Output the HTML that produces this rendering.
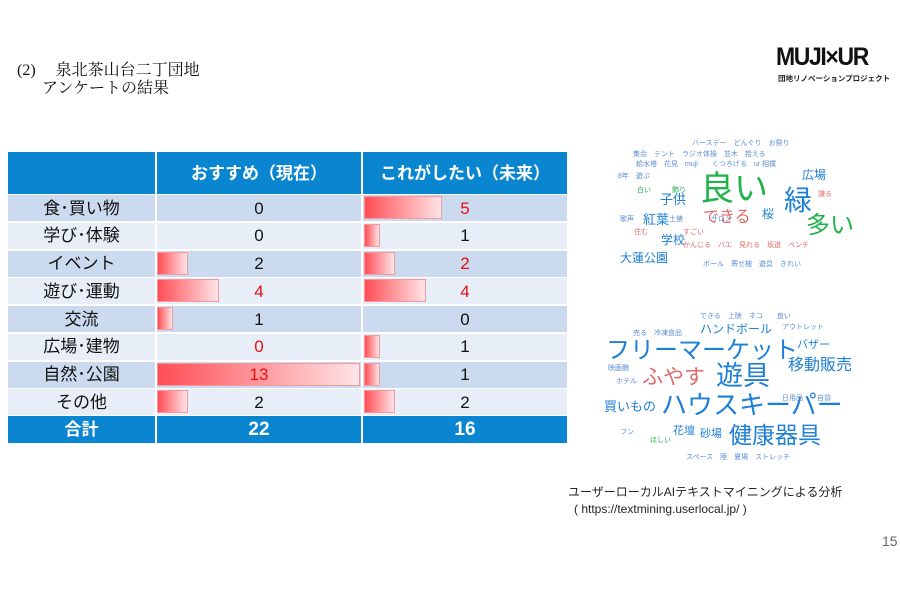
<!DOCTYPE html>
<html><head><meta charset="utf-8"><style>
*{margin:0;padding:0;box-sizing:border-box}
body{width:900px;height:600px;background:#fff;position:relative;overflow:hidden;font-family:"Liberation Sans","Noto Sans CJK JP",sans-serif}
.a{position:absolute;white-space:nowrap}
.t{font-family:"Liberation Serif","Noto Serif CJK SC",serif;font-size:16px;color:#111;line-height:1}
.cell{position:absolute;display:flex;align-items:center;justify-content:center;font-size:17px;color:#111;line-height:1}
.bar{position:absolute;height:23px;background:linear-gradient(90deg,#ff4d55,#ffe4e6);border:1px solid #f29aa0}
.w{position:absolute;white-space:nowrap;line-height:1}
</style></head><body>
<div class="a t" style="left:17px;top:63px">(2)　 泉北茶山台二丁団地</div>
<div class="a t" style="left:42px;top:81px">アンケートの結果</div>
<div class="a" style="left:776px;top:45px;font-size:25px;font-weight:bold;letter-spacing:-1.5px;color:#111;line-height:1;transform:scaleX(0.92);transform-origin:left">MUJI×UR</div>
<div class="a" style="left:778px;top:75px;font-size:7.5px;font-weight:bold;color:#222;line-height:1">団地リノベーションプロジェクト</div>

<div class="a" style="left:8px;top:152px;width:559px;height:42px;background:#0a86d1"></div>
<div class="a" style="left:8px;top:416px;width:559px;height:27px;background:#0a86d1"></div>
<div id="rows"></div>
<div class="a" style="left:155px;top:152px;width:2px;height:291px;background:#fff"></div>
<div class="a" style="left:361px;top:152px;width:2px;height:291px;background:#fff"></div>
<div class="cell" style="left:157px;top:152px;width:204px;height:42px;color:#fff;font-weight:bold;font-size:17px">おすすめ（現在）</div>
<div class="cell" style="left:363px;top:152px;width:204px;height:42px;color:#fff;font-weight:bold;font-size:17px">これがしたい（未来）</div>
<div class="cell" style="left:8px;top:416px;width:147px;height:27px;color:#fff;font-weight:bold">合計</div>
<div class="cell" style="left:157px;top:416px;width:204px;height:27px;color:#fff;font-weight:bold;font-size:19px">22</div>
<div class="cell" style="left:363px;top:416px;width:204px;height:27px;color:#fff;font-weight:bold;font-size:19px">16</div>

<script>
var d=[["食･買い物",0,5,0,1],["学び･体験",0,1,0,0],["イベント",2,2,0,1],["遊び･運動",4,4,1,1],["交流",1,0,0,0],["広場･建物",0,1,1,0],["自然･公園",13,1,1,0],["その他",2,2,0,0]];
var h="";
for(var i=0;i<8;i++){var y=194+i*27.75;var bg=i%2==0?"#cbdaee":"#e7eef8";
h+='<div class="a" style="left:8px;top:'+(y+1)+'px;width:559px;height:26px;background:'+bg+'"></div>';
if(d[i][1])h+='<div class="bar" style="left:157px;top:'+(y+2)+'px;width:'+(d[i][1]*15.6)+'px"></div>';
if(d[i][2])h+='<div class="bar" style="left:364px;top:'+(y+2)+'px;width:'+(d[i][2]*15.6)+'px"></div>';
h+='<div class="cell" style="left:8px;top:'+y+'px;width:147px;height:28px">'+d[i][0]+'</div>';
h+='<div class="cell" style="left:157px;top:'+y+'px;width:204px;height:28px;color:'+(d[i][3]?"#e81010":"#111")+'">'+d[i][1]+'</div>';
h+='<div class="cell" style="left:363px;top:'+y+'px;width:204px;height:28px;color:'+(d[i][4]?"#e81010":"#111")+'">'+d[i][2]+'</div>';}
document.getElementById("rows").innerHTML=h;
</script>

<div class="w" style="left:700px;top:172px;font-size:34px;color:#22b24c">良い</div>
<div class="w" style="left:784px;top:187px;font-size:28px;color:#1d7fd6">緑</div>
<div class="w" style="left:806px;top:214px;font-size:24px;color:#22b24c">多い</div>
<div class="w" style="left:703px;top:210px;font-size:16px;color:#e06a6a">できる</div>
<div class="w" style="left:660px;top:193px;font-size:13px;color:#1d7fd6">子供</div>
<div class="w" style="left:643px;top:213px;font-size:13px;color:#1d7fd6">紅葉</div>
<div class="w" style="left:661px;top:234px;font-size:12px;color:#1d7fd6">学校</div>
<div class="w" style="left:620px;top:252px;font-size:12px;color:#1d7fd6">大蓮公園</div>
<div class="w" style="left:802px;top:169px;font-size:12px;color:#1d7fd6">広場</div>
<div class="w" style="left:762px;top:208px;font-size:12px;color:#1d7fd6">桜</div>
<div class="w" style="left:692px;top:140px;font-size:7px;color:#5b8ed6">バースデー　どんぐり　お祭り</div>
<div class="w" style="left:633px;top:151px;font-size:7px;color:#5b8ed6">集会　テント　ラジオ体操　並木　拾える</div>
<div class="w" style="left:636px;top:161px;font-size:7px;color:#5b8ed6">給水塔　花見　muji　　くつろげる　ur 相撲</div>
<div class="w" style="left:618px;top:173px;font-size:7px;color:#5b8ed6">8年　遊ぶ</div>
<div class="w" style="left:637px;top:187px;font-size:7px;color:#22b24c">白い　　　飾り</div>
<div class="w" style="left:818px;top:191px;font-size:7px;color:#e06a6a">謙る</div>
<div class="w" style="left:620px;top:216px;font-size:7px;color:#5b8ed6">歌声　　　　　土俵　　　　サロン</div>
<div class="w" style="left:634px;top:229px;font-size:7px;color:#e06a6a">住む　　　　　すごい</div>
<div class="w" style="left:683px;top:242px;font-size:7px;color:#e06a6a">かんじる　バエ　見れる　坂道　ベンチ</div>
<div class="w" style="left:703px;top:261px;font-size:7px;color:#5b8ed6">ボール　寄せ植　遊具　きれい</div>

<div class="w" style="left:606px;top:339px;font-size:24px;color:#1d7fd6">フリーマーケット</div>
<div class="w" style="left:642px;top:367px;font-size:21px;color:#e06a6a">ふやす</div>
<div class="w" style="left:716px;top:363px;font-size:27px;color:#1d7fd6">遊具</div>
<div class="w" style="left:788px;top:358px;font-size:16px;color:#1d7fd6">移動販売</div>
<div class="w" style="left:661px;top:392px;font-size:26px;color:#1d7fd6">ハウスキーパー</div>
<div class="w" style="left:729px;top:424px;font-size:23px;color:#1d7fd6">健康器具</div>
<div class="w" style="left:604px;top:400px;font-size:13px;color:#1d7fd6">買いもの</div>
<div class="w" style="left:700px;top:323px;font-size:12px;color:#1d7fd6">ハンドボール</div>
<div class="w" style="left:797px;top:340px;font-size:11px;color:#1d7fd6">バザー</div>
<div class="w" style="left:673px;top:426px;font-size:11px;color:#1d7fd6">花壇</div>
<div class="w" style="left:700px;top:429px;font-size:11px;color:#1d7fd6">砂場</div>
<div class="w" style="left:700px;top:313px;font-size:7px;color:#5b8ed6">できる　上映　ネコ　　良い</div>
<div class="w" style="left:782px;top:324px;font-size:7px;color:#5b8ed6">アウトレット</div>
<div class="w" style="left:633px;top:330px;font-size:7px;color:#5b8ed6">売る　冷凍食品</div>
<div class="w" style="left:608px;top:365px;font-size:7px;color:#5b8ed6">映画館</div>
<div class="w" style="left:616px;top:378px;font-size:7px;color:#5b8ed6">ホテル</div>
<div class="w" style="left:782px;top:395px;font-size:7px;color:#5b8ed6">日用品　　自習</div>
<div class="w" style="left:620px;top:429px;font-size:7px;color:#5b8ed6">フン</div>
<div class="w" style="left:650px;top:437px;font-size:7px;color:#22b24c">ほしい</div>
<div class="w" style="left:686px;top:454px;font-size:7px;color:#5b8ed6">スペース　陸　夏場　ストレッチ</div>

<div class="a" style="left:568px;top:486px;font-size:12px;color:#222;line-height:1">ユーザーローカルAIテキストマイニングによる分析</div>
<div class="a" style="left:574px;top:503px;font-size:12px;color:#222;line-height:1">( https://textmining.userlocal.jp/ )</div>
<div class="a" style="left:882px;top:534px;font-size:14px;color:#666;line-height:1">15</div>
</body></html>
